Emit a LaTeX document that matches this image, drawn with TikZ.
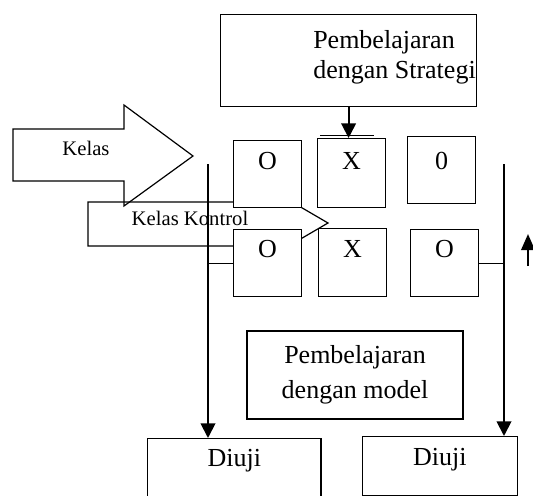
\documentclass[tikz,border=0pt]{standalone}
\usepackage{fontspec}
\setmainfont{Liberation Serif}
\usetikzlibrary{arrows.meta}

\begin{document}
\begin{tikzpicture}[x=0.75pt,y=-0.75pt
,cellstyle/.style={draw=black,fill=white,line width=0.9pt,inner sep=0pt,minimum width=51pt,text height=22pt,text depth=28pt,font=\fontsize{19.5}{22.5}\selectfont}
,boxstyle/.style={draw=black,fill=white,line width=0.9pt,inner sep=0pt,font=\fontsize{19.5}{22.5}\selectfont}
,blockstyle/.style={draw=black,line width=0.9pt,line join=miter}
,smallstyle/.style={inner sep=0pt,font=\fontsize{15.5}{18}\selectfont}
,flowstyle/.style={draw=black,line width=1.4pt,-{Triangle[length=11pt,width=11pt]}}
,linkstyle/.style={draw=black,line width=0.9pt}
]
\useasboundingbox (0,0) rectangle (533,496);
\fill[white] (0,0) rectangle (533,496);
\draw[blockstyle] (13,129) -- (124,129) -- (124,105) -- (193,156) -- (124,206) -- (124,181) -- (13,181) -- cycle;
\node[smallstyle] (kelas) at (86,148) {Kelas};
\draw[blockstyle] (88,202) -- (280,202) -- (280,195) -- (328,223) -- (280,251) -- (280,246) -- (88,246) -- cycle;
\node[smallstyle] (kontrol) at (190,218) {Kelas Kontrol};
\node[boxstyle,anchor=north west,minimum width=192pt,minimum height=69pt] (strat) at (220,14) {};
\node[anchor=west,align=left,inner sep=0pt,font=\fontsize{19.5}{22.5}\selectfont] (strattxt) at (313,57) {Pembelajaran\\dengan Strategi};
\node[cellstyle,anchor=north west] (oa) at (233,140) {O};
\node[cellstyle,anchor=north west,text height=23.5pt,text depth=28pt] (xa) at (317,138) {X};
\node[cellstyle,anchor=north west,text height=25pt,text depth=25.25pt] (za) at (407,136) {0};
\node[cellstyle,anchor=north west,text height=21pt,text depth=29.25pt] (ob) at (233,229) {O};
\node[cellstyle,anchor=north west,text height=21.5pt,text depth=29.5pt] (xb) at (318,228) {X};
\node[cellstyle,anchor=north west,text height=21pt,text depth=29.25pt] (zb) at (410,229) {O};
\draw[linkstyle] ([xshift=2.25pt,yshift=1.9pt]xa.north west) -- ++(54,0);
\node[boxstyle,minimum width=162pt,minimum height=66pt,align=center,font=\fontsize{19.5}{26}\selectfont] (model) at (355,375) {Pembelajaran\\dengan model};
\node[boxstyle,anchor=north west,minimum width=130pt,text height=21pt,text depth=36pt] (diujia) at (147,438) {Diuji};
\node[boxstyle,anchor=north west,minimum width=116pt,text height=21.5pt,text depth=22.5pt] (diujib) at (362,436) {Diuji};
\coordinate (ltop) at (208,164);
\coordinate (rtop) at (504,164);
\coordinate (upfoot) at (528,266);
\coordinate (uptip) at (528,234);
\draw[flowstyle] (strat.south) -- (strat.south |- xa.north);
\draw[flowstyle] (ltop) -- (ltop |- diujia.north);
\draw[flowstyle] (rtop) -- (rtop |- diujib.north);
\draw[linkstyle] (ob.west) -- (ob.west -| ltop);
\draw[linkstyle] (zb.east) -- (zb.east -| rtop);
\draw[draw=black,line width=1.8pt,-{Triangle[length=12pt,width=10pt]}] (upfoot) -- (uptip);
\end{tikzpicture}
\end{document}
